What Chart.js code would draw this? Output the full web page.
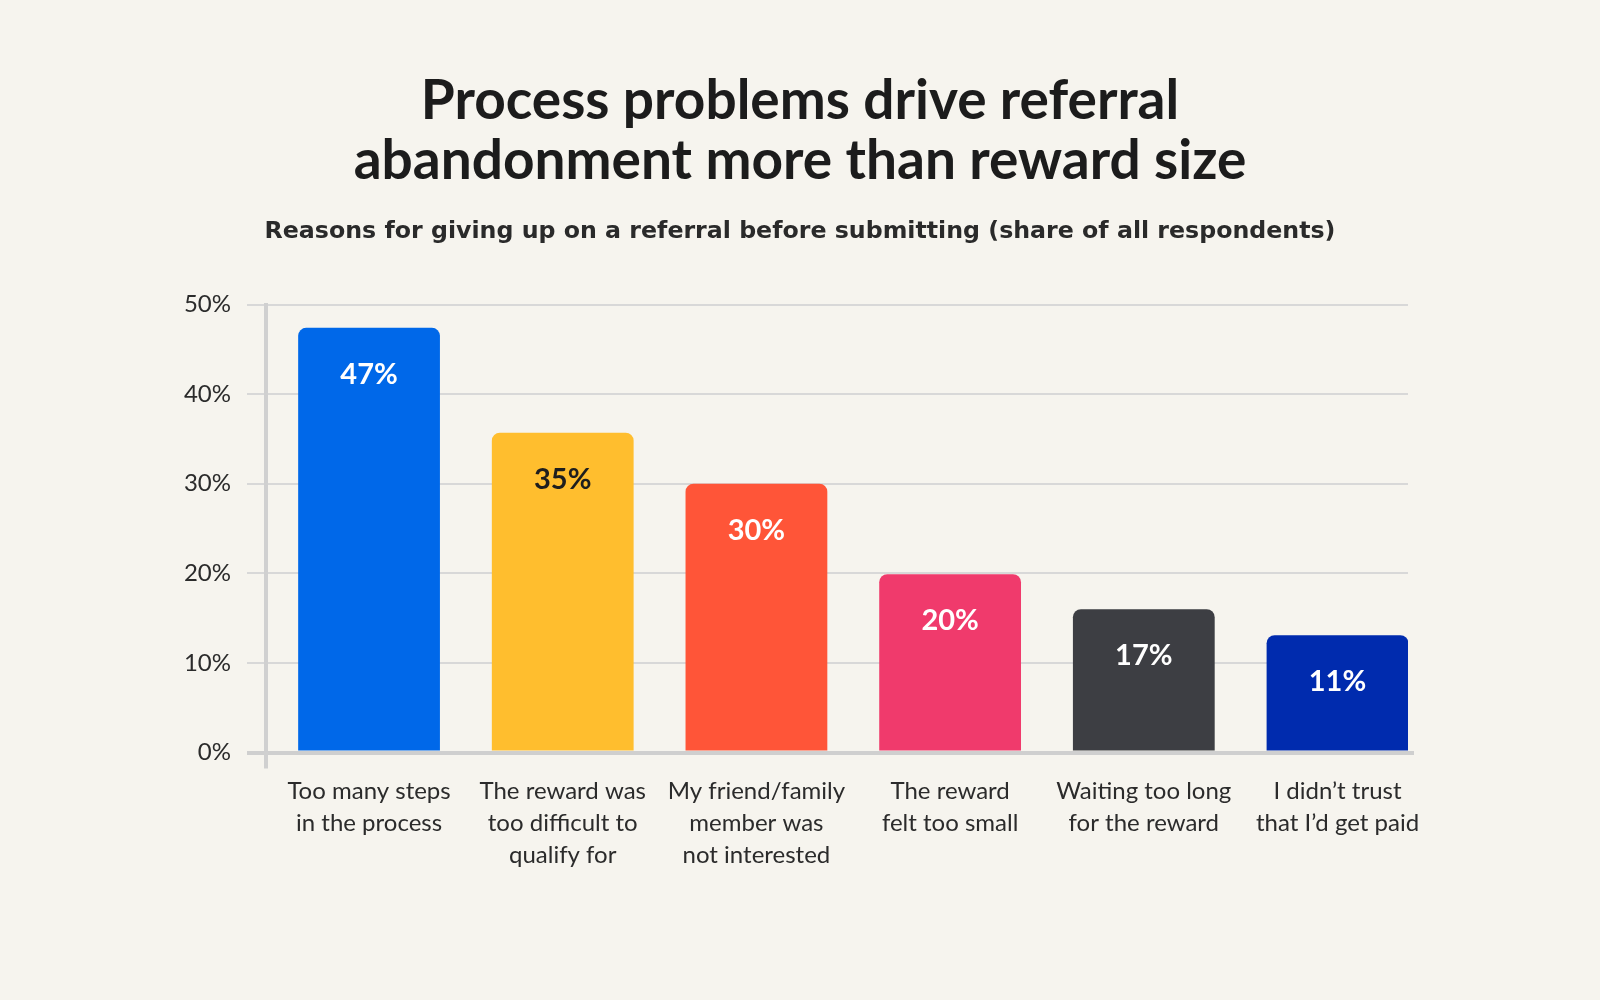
<!DOCTYPE html>
<html>
<head>
<meta charset="utf-8">
<script src="https://cdn.jsdelivr.net/npm/chart.js@4.4.1/dist/chart.umd.min.js"></script>
<style>
  html, body { margin: 0; padding: 0; background: #f6f4ee; }
  #wrap { width: 1600px; height: 1000px; position: relative; }
</style>
</head>
<body>
<div id="wrap"><canvas id="c" width="1600" height="1000"></canvas></div>
<script>
const categories = [
  ["Too many steps", "in the process"],
  ["The reward was", "too difficult to", "qualify for"],
  ["My friend/family", "member was", "not interested"],
  ["The reward", "felt too small"],
  ["Waiting too long", "for the reward"],
  ["I didn’t trust", "that I’d get paid"]
];
const barValues = [47.4, 35.7, 30.0, 19.9, 16.0, 13.1];
const valueLabels = ["47%", "35%", "30%", "20%", "17%", "11%"];
const barColors = ["#0068e9", "#ffbe2e", "#ff5538", "#f03a6c", "#3d3e43", "#002bae"];
const labelColors = ["#ffffff", "#1e1e1e", "#ffffff", "#ffffff", "#ffffff", "#ffffff"];
const yTicks = [0, 10, 20, 30, 40, 50];

const FONT = "Lato, 'Open Sans', sans-serif";
const SUB_FONT = "'DejaVu Sans', 'Open Sans', sans-serif";

const valueLabelPlugin = {
  id: 'valueLabels',
  afterDatasetsDraw(chart) {
    const ctx = chart.ctx;
    const meta = chart.getDatasetMeta(0);
    ctx.save();
    ctx.font = "700 29px " + FONT;
    ctx.textAlign = 'center';
    ctx.textBaseline = 'alphabetic';
    meta.data.forEach((bar, i) => {
      ctx.fillStyle = labelColors[i];
      ctx.fillText(valueLabels[i], bar.x, bar.y + 56);
    });
    ctx.restore();
  }
};

const axisExtendPlugin = {
  id: 'axisExtend',
  afterDraw(chart) {
    const ctx = chart.ctx;
    const a = chart.chartArea;
    ctx.save();
    ctx.strokeStyle = '#d0d0d0';
    ctx.lineWidth = 4;
    ctx.beginPath();
    ctx.moveTo(a.left, a.bottom);
    ctx.lineTo(a.left, a.bottom + 16);
    ctx.stroke();
    ctx.restore();
  }
};

new Chart(document.getElementById('c'), {
  type: 'bar',
  data: {
    labels: categories,
    datasets: [{
      data: barValues,
      backgroundColor: barColors,
      borderRadius: { topLeft: 8, topRight: 8, bottomLeft: 0, bottomRight: 0 },
      borderSkipped: false,
      categoryPercentage: 1,
      barPercentage: 0.732
    }]
  },
  options: {
    responsive: false,
    animation: false,
    devicePixelRatio: 1,
    layout: { padding: { top: 0, left: 0, right: 0, bottom: 0 } },
    plugins: {
      legend: { display: false },
      tooltip: { enabled: false },
      title: {
        display: true,
        text: ["Process problems drive referral", "abandonment more than reward size"],
        color: '#1c1c1c',
        font: { family: FONT, size: 55, weight: '700', lineHeight: 1.0909 },
        padding: { top: 71.7, bottom: 0 }
      },
      subtitle: {
        display: true,
        text: "Reasons for giving up on a referral before submitting (share of all respondents)",
        color: '#2a2a2a',
        font: { family: SUB_FONT, size: 23.7, weight: '700', lineHeight: 1.2 },
        padding: { top: 26.2, bottom: 58.2 }
      }
    },
    scales: {
      x: {
        offset: true,
        afterBuildTicks(scale) {
          scale._startValue = -0.532;
          scale._valueRange = 5.896;
        },
        afterFit(scale) { scale.height = 247.5; },
        grid: { display: false, drawTicks: false, lineWidth: 12 },
        border: { display: true, color: '#cfcfcf', width: 4, z: 1 },
        ticks: {
          autoSkip: false,
          maxRotation: 0,
          padding: 23,
          color: '#2b2b2b',
          font: { family: FONT, size: 24, weight: '400', lineHeight: 1.3333 }
        }
      },
      y: {
        min: 0,
        max: 50,
        afterFit(scale) { scale.width = 266; },
        afterBuildTicks(scale) {
          scale.ticks = yTicks.map(v => ({ value: v }));
        },
        grid: {
          color: (c) => (c.tick && c.tick.value === 0) ? '#cfcfcf' : '#d8d8d8',
          lineWidth: (c) => (c.tick && c.tick.value === 0) ? 4 : 2,
          tickLength: 19,
          tickColor: (c) => (c.tick && c.tick.value === 0) ? '#cfcfcf' : '#d8d8d8'
        },
        border: { display: true, color: '#d0d0d0', width: 4 },
        ticks: {
          padding: 16,
          color: '#2b2b2b',
          font: { family: FONT, size: 24, weight: '400' },
          callback: (v) => v + '%'
        }
      },
      spacer: {
        type: 'linear',
        position: 'right',
        display: true,
        min: 0,
        max: 1,
        afterFit(scale) { scale.width = 192; },
        grid: { display: false, drawTicks: false },
        border: { display: false },
        ticks: { display: false }
      }
    }
  },
  plugins: [valueLabelPlugin, axisExtendPlugin]
});
</script>
</body>
</html>
